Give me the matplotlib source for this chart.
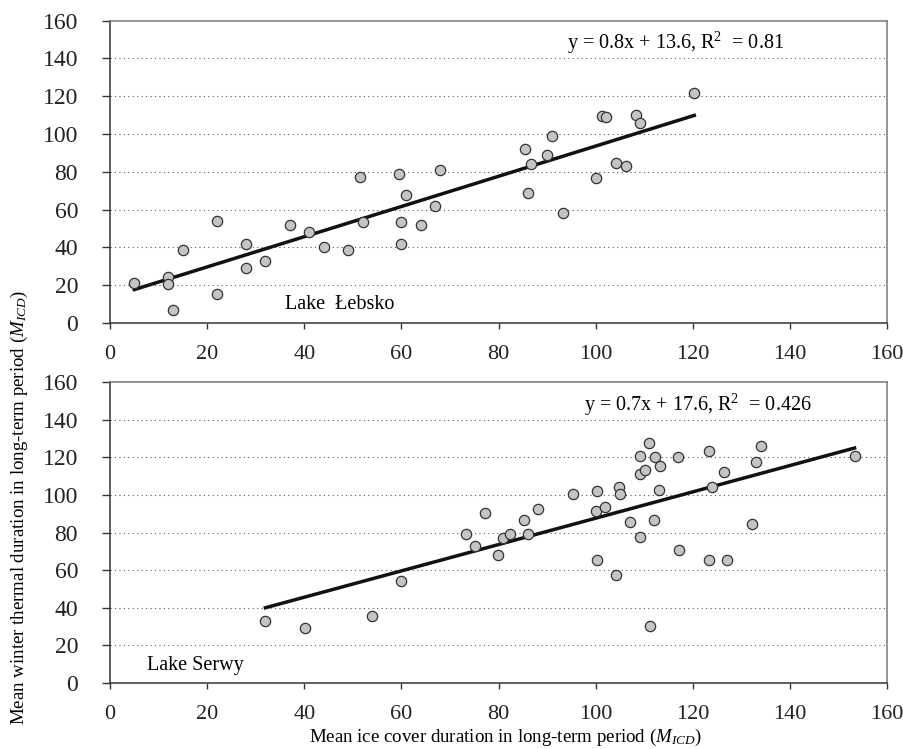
import numpy as np
import matplotlib
matplotlib.use("Agg")
import matplotlib.pyplot as plt

plt.rcParams['font.family'] = ['Liberation Serif', 'DejaVu Serif']
plt.rcParams['mathtext.fontset'] = 'custom'
plt.rcParams['mathtext.rm'] = 'Liberation Serif'
plt.rcParams['mathtext.it'] = 'Liberation Serif:italic'

# Lake Łebsko
lebsko_x = [5, 12, 12, 13, 15, 22, 22, 28, 28, 32, 37, 41, 44, 49, 51.5, 52, 59.5, 60, 60, 61, 64,
            67, 68, 85.4, 86.6, 86, 90, 91, 93.3, 100, 101.2, 102.2, 104.2, 106.2, 108.2, 109.2, 120.3]
lebsko_y = [21, 24.4, 20.3, 6.7, 38.5, 53.7, 15.2, 42, 29, 32.7, 52, 48, 40, 38.5, 77, 53.5, 79, 53.5,
            42, 67.6, 51.8, 61.6, 80.8, 92, 84.1, 68.8, 88.8, 98.9, 57.9, 76.8, 109.7, 109, 84.8, 83.2,
            110.2, 105.6, 121.7]

# Lake Serwy
serwy_x = [32, 40.2, 54, 60, 73.3, 75.1, 77.2, 79.8, 80.9, 82.3, 85.2, 86.1, 88.2, 95.3, 100.3, 100.1,
           102, 100.3, 104.1, 104.7, 105, 107.1, 109.1, 109.2, 110.1, 109.2, 111, 111.1, 112.2, 113.3,
           113.1, 112, 117, 117.1, 123.3, 123.3, 124, 126.5, 127.1, 132.2, 133, 134, 153.3]
serwy_y = [33, 29.4, 35.8, 54, 79.3, 72.6, 90.3, 68.1, 77.2, 79.4, 86.6, 79.4, 92.7, 100.2, 102, 91.5,
           93.8, 65.2, 57.6, 104.4, 100.2, 85.8, 120.8, 111.2, 113.3, 77.8, 127.5, 30.2, 120.2, 115.4,
           102.8, 86.6, 120.2, 70.8, 123.3, 65.5, 104.4, 112, 65.2, 84.3, 117.7, 126, 120.8]

lebsko_fit = (0.8, 13.6, "y = 0.8x + 13.6, R$^{2}$  = 0.81")
serwy_fit = (0.7, 17.6, "y = 0.7x + 17.6, R$^{2}$  = 0.426")

fig = plt.figure(figsize=(9.04, 7.49), dpi=100)
ax1 = fig.add_axes([0.1217, 0.569, 0.8596, 0.4034])
ax2 = fig.add_axes([0.1217, 0.0881, 0.8596, 0.4019])


def draw_panel(ax, xs, ys, fit, name, name_xy, eq_xy):
    ax.set_xlim(0, 160)
    ax.set_ylim(0, 160)
    ax.set_xticks(np.arange(0, 161, 20))
    ax.set_yticks(np.arange(0, 161, 20))
    for yv in range(20, 160, 20):
        ax.axhline(yv, color='#555555', linestyle=(0, (1, 3)), linewidth=0.8, zorder=1)
    slope, icpt, label = fit
    xl = np.array([min(xs), max(xs)])
    ax.plot(xl, slope * xl + icpt, color='#111111', linewidth=2.5, zorder=2)
    ax.scatter(xs, ys, s=55, facecolor='#c4c4c4', edgecolor='#333333', linewidth=0.9, zorder=3)
    ax.text(eq_xy[0], eq_xy[1], label, fontsize=14.5, ha='center', va='center')
    ax.text(name_xy[0], name_xy[1], name, fontsize=14.5, ha='left', va='center')
    for s in ax.spines.values():
        s.set_color('#333333')
        s.set_linewidth(1.1)
    ax.spines['right'].set_color('#777777')
    ax.spines['top'].set_color('#777777')
    ax.tick_params(axis='x', direction='out', length=4, width=1, colors='#333333',
                   labelsize=16, labelcolor='#222222', pad=12)
    ax.tick_params(axis='y', direction='out', length=6, width=1, colors='#333333',
                   labelsize=17, labelcolor='#222222', pad=17)


draw_panel(ax1, lebsko_x, lebsko_y, lebsko_fit, "Lake  Łebsko", (36, 9.5), (116.5, 148))
draw_panel(ax2, serwy_x, serwy_y, serwy_fit, "Lake Serwy", (7.6, 9.5), (121, 148))

fig.text(0.022, 0.322, "Mean winter thermal duration in long-term period ($M_{ICD}$)",
         rotation=90, ha='center', va='center', fontsize=13.6)
fig.text(0.5586, 0.016, "Mean ice cover duration in long-term period ($M_{ICD}$)",
         ha='center', va='center', fontsize=13.6)

fig.savefig("out.png", dpi=100)
